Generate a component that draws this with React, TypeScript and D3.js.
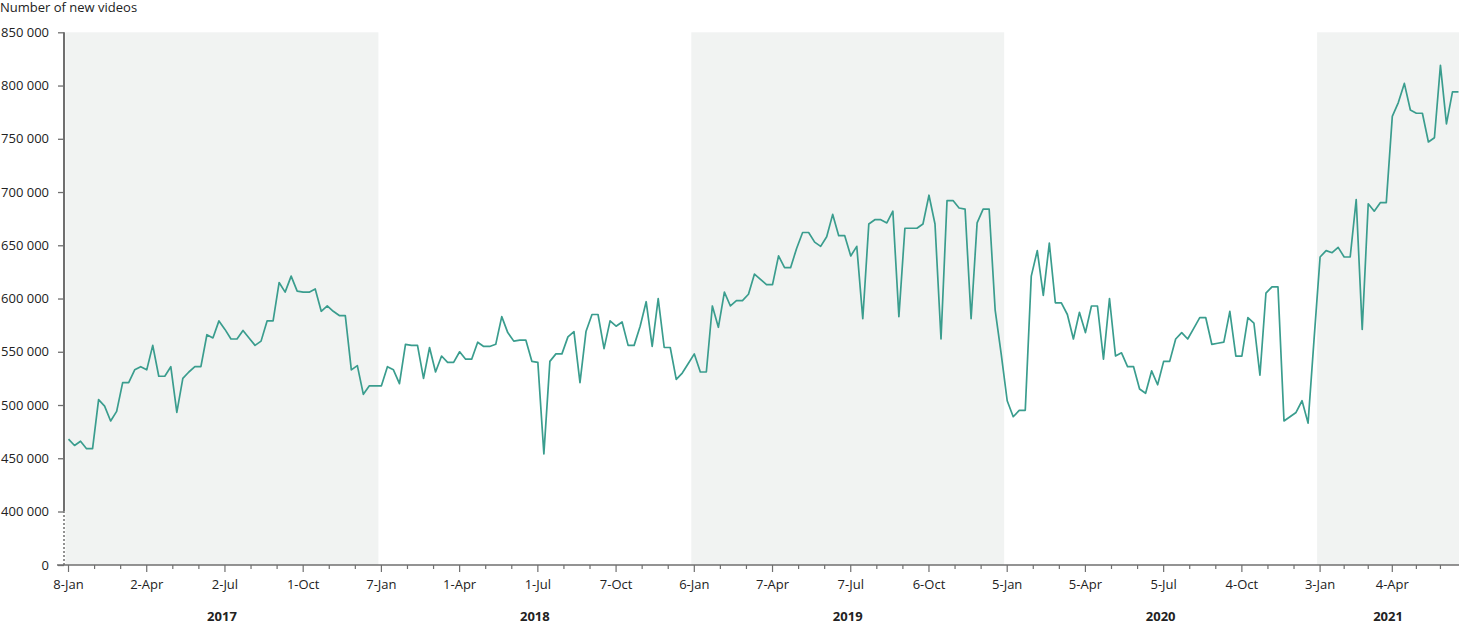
import React, { useEffect, useRef } from 'react';
import * as d3 from 'd3';

// weekly new videos (thousands), one array per year, first week = first Sunday of the year
const videos2017 = [468, 462, 466, 459, 459, 505, 499, 485, 494, 521, 521, 533, 536, 533, 556, 527, 527, 536, 493, 525, 531, 536, 536, 566, 563, 579, 571, 562, 562, 570, 563, 556, 560, 579, 579, 615, 606, 621, 607, 606, 606, 609, 588, 593, 588, 584, 584, 533, 537, 510, 518, 518];
const videos2018 = [518, 536, 533, 520, 557, 556, 556, 525, 554, 531, 546, 540, 540, 550, 543, 543, 559, 555, 555, 557, 583, 568, 560, 561, 561, 541, 540, 454, 541, 548, 548, 564, 569, 521, 569, 585, 585, 553, 579, 574, 578, 556, 556, 574, 597, 555, 600, 554, 554, 524, 530, 539];
const videos2019 = [548, 531, 531, 593, 573, 606, 593, 598, 598, 604, 623, 618, 613, 613, 640, 629, 629, 647, 662, 662, 653, 649, 658, 679, 659, 659, 640, 649, 581, 670, 674, 674, 671, 682, 583, 666, 666, 666, 670, 697, 670, 562, 692, 692, 685, 684, 581, 671, 684, 684, 589, 548];
const videos2020 = [504, 489, 495, 495, 621, 645, 603, 652, 596, 596, 585, 562, 587, 568, 593, 593, 543, 600, 546, 549, 536, 536, 515, 511, 532, 519, 541, 541, 562, 568, 562, 572, 582, 582, 557, 558, 559, 588, 546, 546, 582, 577, 528, 605, 611, 611, 485, 489, 493, 504, 483, 562];
const videos2021 = [639, 645, 643, 648, 639, 639, 693, 571, 689, 682, 690, 690, 771, 784, 802, 777, 774, 774, 747, 751, 819, 764, 794, 794];

const years = ['2017', '2018', '2019', '2020', '2021'];
const yearSeries = [videos2017, videos2018, videos2019, videos2020, videos2021];
const quarterLabels = [
  ['8-Jan', '2-Apr', '2-Jul', '1-Oct'],
  ['7-Jan', '1-Apr', '1-Jul', '7-Oct'],
  ['6-Jan', '7-Apr', '7-Jul', '6-Oct'],
  ['5-Jan', '5-Apr', '5-Jul', '4-Oct'],
  ['3-Jan', '4-Apr'],
];
const yTicks = [0, 400000, 450000, 500000, 550000, 600000, 650000, 700000, 750000, 800000, 850000];

const App: React.FC = () => {
  const svgRef = useRef<SVGSVGElement>(null);

  useEffect(() => {
    if (!svgRef.current) return;
    const svg = d3.select(svgRef.current);
    svg.selectAll('*').remove();

    const W = 1459;
    const H = 625;
    const font = "'Open Sans', 'Noto Sans', sans-serif";
    const axisColor = '#6f6f6f';
    const textColor = '#222';

    const values = yearSeries.flat().map(v => v * 1000);
    const n = values.length;

    // year segments as week index ranges
    let offset = 0;
    const segments = yearSeries.map((s, i) => {
      const seg = { year: years[i], start: offset, len: s.length, labels: quarterLabels[i] };
      offset += s.length;
      return seg;
    });

    const x = d3.scaleLinear().domain([-0.5, n - 0.5]).range([65.5, 1461.5]);
    // broken axis: 0..400k squeezed, 400k..850k linear
    const y = d3.scaleLinear().domain([0, 400000, 850000]).range([565, 511.5, 32.3]);

    svg.attr('width', W).attr('height', H);

    // alternating year bands
    segments.forEach((s, i) => {
      if (i % 2 !== 0) return;
      const x0 = Math.max(65, x(s.start - 0.5));
      const x1 = Math.min(W, x(s.start + s.len - 0.5));
      svg.append('rect')
        .attr('x', x0)
        .attr('y', y(850000))
        .attr('width', x1 - x0)
        .attr('height', y(0) - y(850000))
        .attr('fill', '#f1f3f2');
    });

    // y axis
    const fmt = d3.formatLocale({ decimal: '.', thousands: ' ', grouping: [3], currency: ['', ''] }).format(',');
    const yAxis = svg.append('g')
      .attr('transform', 'translate(64,0)')
      .call(d3.axisLeft(y).tickValues(yTicks).tickSize(6).tickPadding(9).tickFormat(d => fmt(d as number)));
    yAxis.select('.domain').remove();
    yAxis.selectAll('line').attr('stroke', axisColor).attr('stroke-width', 1.3);
    yAxis.selectAll('text')
      .attr('fill', textColor)
      .style('font-family', font)
      .style('font-size', '13px');

    svg.append('line')
      .attr('x1', 64).attr('x2', 64)
      .attr('y1', y(400000)).attr('y2', y(850000))
      .attr('stroke', axisColor).attr('stroke-width', 2);
    svg.append('line')
      .attr('x1', 64).attr('x2', 64)
      .attr('y1', y(0)).attr('y2', y(400000))
      .attr('stroke', axisColor).attr('stroke-width', 1.5)
      .attr('stroke-dasharray', '2,2');

    // x axis: monthly ticks, quarter labels
    const minorTicks: number[] = [];
    const majorTicks: { idx: number; label: string }[] = [];
    segments.forEach(s => {
      const nt = Math.round((s.len * 12) / 52);
      const step = s.len / nt;
      for (let k = 0; k < nt; k++) {
        const idx = s.start + k * step;
        if (k % 3 === 0) majorTicks.push({ idx, label: s.labels[k / 3] });
        else minorTicks.push(idx);
      }
    });

    svg.append('line')
      .attr('x1', 57).attr('x2', W)
      .attr('y1', y(0)).attr('y2', y(0))
      .attr('stroke', axisColor).attr('stroke-width', 1.5);

    svg.append('g')
      .selectAll('line')
      .data(minorTicks)
      .join('line')
      .attr('x1', d => x(d)).attr('x2', d => x(d))
      .attr('y1', y(0)).attr('y2', y(0) + 4)
      .attr('stroke', axisColor).attr('stroke-width', 1.2);

    svg.append('g')
      .selectAll('line')
      .data(majorTicks)
      .join('line')
      .attr('x1', d => x(d.idx)).attr('x2', d => x(d.idx))
      .attr('y1', y(0)).attr('y2', y(0) + 7)
      .attr('stroke', axisColor).attr('stroke-width', 1.2);

    svg.append('g')
      .selectAll('text')
      .data(majorTicks)
      .join('text')
      .attr('x', d => x(d.idx))
      .attr('y', 589)
      .attr('text-anchor', 'middle')
      .attr('fill', textColor)
      .style('font-family', font)
      .style('font-size', '13px')
      .text(d => d.label);

    // year labels centred in their band
    svg.append('g')
      .selectAll('text')
      .data(segments)
      .join('text')
      .attr('x', d => (Math.max(64, x(d.start - 0.5)) + Math.min(W, x(d.start + d.len - 0.5))) / 2)
      .attr('y', 621)
      .attr('text-anchor', 'middle')
      .attr('fill', textColor)
      .style('font-family', font)
      .style('font-size', '13px')
      .style('font-weight', 700)
      .text(d => d.year);

    // the series
    const line = d3.line<number>()
      .x((_, i) => x(i))
      .y(d => y(d));
    svg.append('path')
      .datum(values)
      .attr('d', line)
      .attr('fill', 'none')
      .attr('stroke', '#3a9d8e')
      .attr('stroke-width', 1.7)
      .attr('stroke-linejoin', 'round');

    // axis title
    svg.append('text')
      .attr('x', 0)
      .attr('y', 12)
      .attr('fill', textColor)
      .style('font-family', font)
      .style('font-size', '13px')
      .text('Number of new videos');
  }, []);

  return (
    <svg ref={svgRef} style={{ position: 'absolute', left: 0, top: 0, display: 'block' }}></svg>
  );
};

export default App;
